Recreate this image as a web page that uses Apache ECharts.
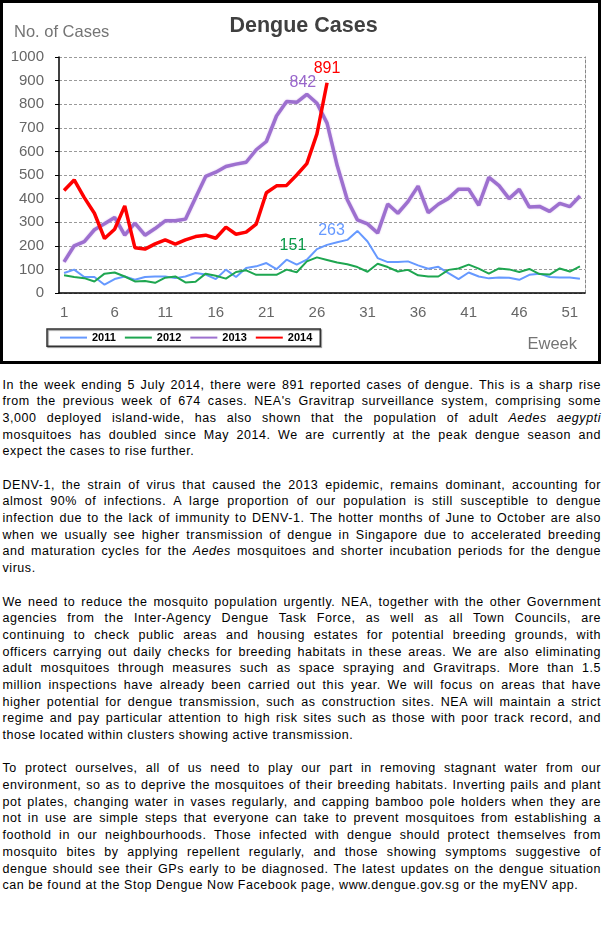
<!DOCTYPE html>
<html>
<head>
<meta charset="utf-8">
<script src="https://cdn.jsdelivr.net/npm/echarts@6/dist/echarts.min.js"></script>
<style>
  html, body { margin: 0; padding: 0; background: #fff; }
  body { width: 602px; height: 925px; position: relative; overflow: hidden; }
  #box { position: absolute; left: 0; top: 0; width: 595px; height: 358px; border: 3px solid #000; }
  #chart { width: 595px; height: 358px; }
  #text { position: absolute; left: 2.5px; top: 376.6px; width: 598.5px;
          font-family: "Liberation Sans", Arial, sans-serif; font-size: 12.5px; letter-spacing: 0.55px; color: #000; }
  #text div { height: 16.7px; line-height: 16.7px; white-space: nowrap; }
  #text div.j { text-align: justify; text-align-last: justify; }
  #text .gap { height: 16.7px; }
</style>
</head>
<body>
<div id="box"><div id="chart"></div></div>
<div id="text">
  <div class="j">In the week ending 5 July 2014, there were 891 reported cases of dengue. This is a sharp rise</div>
  <div class="j">from the previous week of 674 cases. NEA's Gravitrap surveillance system, comprising some</div>
  <div class="j">3,000 deployed island-wide, has also shown that the population of adult <i>Aedes aegypti</i></div>
  <div class="j">mosquitoes has doubled since May 2014. We are currently at the peak dengue season and</div>
  <div>expect the cases to rise further.</div>
  <div class="gap"></div>
  <div class="j">DENV-1, the strain of virus that caused the 2013 epidemic, remains dominant, accounting for</div>
  <div class="j">almost 90% of infections. A large proportion of our population is still susceptible to dengue</div>
  <div class="j">infection due to the lack of immunity to DENV-1. The hotter months of June to October are also</div>
  <div class="j">when we usually see higher transmission of dengue in Singapore due to accelerated breeding</div>
  <div class="j">and maturation cycles for the <i>Aedes</i> mosquitoes and shorter incubation periods for the dengue</div>
  <div>virus.</div>
  <div class="gap"></div>
  <div class="j">We need to reduce the mosquito population urgently. NEA, together with the other Government</div>
  <div class="j">agencies from the Inter-Agency Dengue Task Force, as well as all Town Councils, are</div>
  <div class="j">continuing to check public areas and housing estates for potential breeding grounds, with</div>
  <div class="j">officers carrying out daily checks for breeding habitats in these areas. We are also eliminating</div>
  <div class="j">adult mosquitoes through measures such as space spraying and Gravitraps. More than 1.5</div>
  <div class="j">million inspections have already been carried out this year. We will focus on areas that have</div>
  <div class="j">higher potential for dengue transmission, such as construction sites. NEA will maintain a strict</div>
  <div class="j">regime and pay particular attention to high risk sites such as those with poor track record, and</div>
  <div>those located within clusters showing active transmission.</div>
  <div class="gap"></div>
  <div class="j">To protect ourselves, all of us need to play our part in removing stagnant water from our</div>
  <div class="j">environment, so as to deprive the mosquitoes of their breeding habitats. Inverting pails and plant</div>
  <div class="j">pot plates, changing water in vases regularly, and capping bamboo pole holders when they are</div>
  <div class="j">not in use are simple steps that everyone can take to prevent mosquitoes from establishing a</div>
  <div class="j">foothold in our neighbourhoods. Those infected with dengue should protect themselves from</div>
  <div class="j">mosquito bites by applying repellent regularly, and those showing symptoms suggestive of</div>
  <div class="j">dengue should see their GPs early to be diagnosed. The latest updates on the dengue situation</div>
  <div>can be found at the Stop Dengue Now Facebook page, www.dengue.gov.sg or the myENV app.</div>
</div>
<script>
// epidemiological weeks
var weeks = ['1','2','3','4','5','6','7','8','9','10','11','12','13','14','15','16','17','18','19','20',
  '21','22','23','24','25','26','27','28','29','30','31','32','33','34','35','36','37','38','39','40',
  '41','42','43','44','45','46','47','48','49','50','51','52'];

var cases2011 = [85,99,68,68,35,59,70,56,68,70, 70,63,70,85,78,59,99,68,106,113,
  127,101,141,120,141,186,204,215,225,263, 218,148,131,131,134,117,103,111,84,59,
  87,70,62,66,65,56,77,82,68,66,66,60];
var cases2012 = [75,68,63,49,82,87,70,49,51,43, 65,70,45,48,82,73,61,89,96,77,
  77,77,99,88,134,151,140,129,122,110, 90,124,110,91,98,75,70,70,98,104,
  120,103,82,104,100,89,102,80,78,104,91,113];
var cases2013 = [132,200,218,268,293,320,245,296,245,273, 306,306,313,404,494,512,536,546,554,607,
  642,750,811,808,842,804,720,540,395,310, 293,254,377,338,387,453,341,376,401,440,
  440,372,490,455,400,439,364,367,346,380,366,411];
var cases2014 = [434,479,404,338,231,270,369,192,186,208, 225,207,225,239,245,232,279,249,258,292,
  425,454,456,500,548,674,891];

var FONT = 'Liberation Sans, Arial, sans-serif';

function peak(color, label) {
    // label on the highest week of the year
    return {
        symbol: 'circle',
        symbolSize: 1,
        itemStyle: { color: 'rgba(0,0,0,0)' },
        label: Object.assign({
            show: true,
            formatter: '{c}',
            color: color,
            fontSize: 16,
            fontFamily: FONT
        }, label),
        data: [{ type: 'max' }]
    };
}

var chart = echarts.init(document.getElementById('chart'));
var option = {
    backgroundColor: '#fff',
    animation: false,
    textStyle: { fontFamily: FONT },
    grid: { left: 56, top: 54, width: 526, height: 236 },
    graphic: [
        { type: 'text', x: 300.5, y: 23,
          style: { text: 'Dengue Cases', fill: '#404040', font: 'bold 21.5px ' + FONT, align: 'center', verticalAlign: 'middle' } },
        { type: 'text', x: 11, y: 29.5,
          style: { text: 'No. of Cases', fill: '#747474', font: '16.5px ' + FONT, align: 'left', verticalAlign: 'middle' } },
        { type: 'text', x: 574, y: 341,
          style: { text: 'Eweek', fill: '#747474', font: '16.5px ' + FONT, align: 'right', verticalAlign: 'middle' } }
    ],
    legend: {
        left: 44,
        top: 326,
        padding: [3, 8, 3, 12],
        itemGap: 8,
        itemWidth: 27,
        itemHeight: 14,
        borderColor: '#333',
        borderWidth: 1.5,
        backgroundColor: '#fff',
        shadowColor: 'rgba(0,0,0,0.45)',
        shadowOffsetX: 1,
        shadowOffsetY: 1,
        shadowBlur: 1,
        itemStyle: { opacity: 0 },
        textStyle: { color: '#000', fontWeight: 'bold', fontSize: 11, fontFamily: FONT },
        data: ['2011', '2012', '2013', '2014']
    },
    xAxis: {
        type: 'category',
        data: weeks,
        boundaryGap: true,
        axisLine: { lineStyle: { color: '#000', width: 1.5 } },
        axisTick: { interval: 0, length: 5, lineStyle: { color: '#000' } },
        axisLabel: { interval: 4, color: '#666', fontSize: 15, margin: 12 }
    },
    yAxis: [{
        type: 'value',
        min: 0,
        max: 1000,
        interval: 100,
        axisLine: { show: true, lineStyle: { color: '#000', width: 1.5 } },
        axisTick: { show: true, length: 4, lineStyle: { color: '#000' } },
        axisLabel: { color: '#666', fontSize: 15, margin: 15, formatter: function (v) { return String(v); } },
        splitLine: { lineStyle: { color: '#9a9a9a', type: [3, 2] } }
    }, {
        type: 'value',
        position: 'right',
        min: 0,
        max: 1000,
        axisLine: { show: true, lineStyle: { color: '#888', type: [3, 2] } },
        axisTick: { show: false },
        axisLabel: { show: false },
        splitLine: { show: false }
    }],
    series: [{
        name: '2011',
        type: 'line',
        data: cases2011,
        symbol: 'none',
        lineStyle: { color: '#6699ff', width: 2 },
        itemStyle: { color: '#6699ff' },
        markPoint: peak('#6699ff', { position: 'left', distance: 12 })
    }, {
        name: '2012',
        type: 'line',
        data: cases2012,
        symbol: 'none',
        lineStyle: { color: '#1ea650', width: 2 },
        itemStyle: { color: '#1ea650' },
        markPoint: peak('#0a9a48', { position: 'top', distance: 3, offset: [-24, 0] })
    }, {
        name: '2013',
        type: 'line',
        data: cases2013,
        symbol: 'none',
        lineStyle: { color: '#9d70cf', width: 3.5, shadowColor: '#dcc0ee', shadowBlur: 2 },
        itemStyle: { color: '#9d70cf' },
        markPoint: peak('#9966cc', { position: 'top', distance: 3, offset: [-4, 0] })
    }, {
        name: '2014',
        type: 'line',
        data: cases2014,
        symbol: 'none',
        lineStyle: { color: '#ff0000', width: 3.5 },
        itemStyle: { color: '#ff0000' },
        markPoint: peak('#ff0000', { position: 'top', distance: 6 })
    }]
};
chart.setOption(option);
</script>
</body>
</html>
